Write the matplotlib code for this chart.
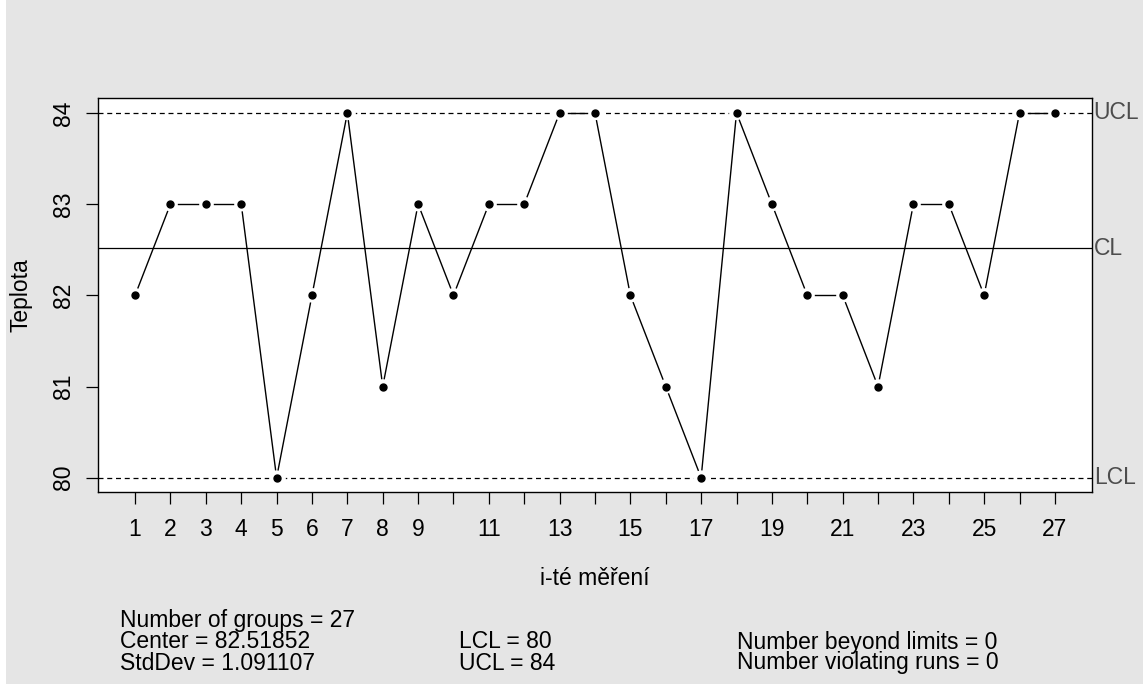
"""Shewhart individuals chart for temperature readings (qcc style)."""

import numpy as np
import matplotlib
matplotlib.use("Agg")
import matplotlib.pyplot as plt
from matplotlib.patches import Rectangle

measurement = list(range(1, 28))
teplota = [82, 83, 83, 83, 80, 82, 84, 81, 83, 82, 83, 83, 84, 84,
           82, 81, 80, 84, 83, 82, 82, 81, 83, 83, 82, 84, 84]
center = 82.51852
std_dev = 1.091107
lcl = 80
ucl = 84
n_beyond = 0
n_violating = 0
x_tick_labels = ["1", "2", "3", "4", "5", "6", "7", "8", "9", "", "11", "", "13", "",
                 "15", "", "17", "", "19", "", "21", "", "23", "", "25", "", "27"]
y_ticks = [80, 81, 82, 83, 84]

plt.rcParams["font.family"] = ["Liberation Sans", "DejaVu Sans"]
BG = "#e5e5e5"
FS = 16.5

fig = plt.figure(figsize=(11.43, 6.84), dpi=100, facecolor=BG)
fig.patches.append(Rectangle((0, 0), 6 / 1143, 1, transform=fig.transFigure,
                             facecolor="white", edgecolor="none", zorder=-1))
ax = fig.add_axes([98.3 / 1143, 1 - 492.3 / 684, 993.4 / 1143, 394.0 / 684])
ax.set_facecolor("white")
ax.set_xlim(-0.04, 28.04)
ax.set_ylim(79.84, 84.16)

# limit lines
ax.axhline(ucl, color="black", lw=0.9, ls=(0, (4, 3)), zorder=1)
ax.axhline(lcl, color="black", lw=0.9, ls=(0, (4, 3)), zorder=1)
ax.axhline(center, color="black", lw=0.9, zorder=1)

# type="b": segments with a gap around each point
fig.canvas.draw()
to_px = ax.transData
inv = ax.transData.inverted()
pts = to_px.transform(np.column_stack([measurement, teplota]))
gap = 8.0
for (x0, y0), (x1, y1) in zip(pts[:-1], pts[1:]):
    d = np.hypot(x1 - x0, y1 - y0)
    if d <= 2 * gap:
        continue
    ux, uy = (x1 - x0) / d, (y1 - y0) / d
    seg = inv.transform([[x0 + ux * gap, y0 + uy * gap],
                         [x1 - ux * gap, y1 - uy * gap]])
    ax.plot(seg[:, 0], seg[:, 1], color="black", lw=1.0, zorder=2)
# clear the limit lines around each point
ax.plot(measurement, teplota, ls="none", marker="o", ms=12,
        mfc="white", mec="none", zorder=1.5)
ax.plot(measurement, teplota, ls="none", marker="o", ms=5,
        mfc="black", mec="black", zorder=3)

ax.set_xticks(measurement)
ax.set_xticklabels(x_tick_labels)
ax.set_yticks(y_ticks)
ax.set_yticklabels([str(v) for v in y_ticks], rotation=90, va="center")
ax.tick_params(axis="both", direction="out", length=8.5, width=0.9,
               labelsize=FS, colors="black")
ax.tick_params(axis="x", pad=10)
ax.tick_params(axis="y", pad=8)
for sp in ax.spines.values():
    sp.set_linewidth(1.0)

ax.set_xlabel("i-té měření", fontsize=FS, labelpad=19)
ax.set_ylabel("Teplota", fontsize=FS, labelpad=14)

for label, yv in (("UCL", ucl), ("CL", center), ("LCL", lcl)):
    ax.text(1.002, yv, label, transform=ax.get_yaxis_transform(),
            fontsize=FS, color="#4d4d4d", va="center", ha="left", clip_on=False)

def put(x_px, y_px, s):
    fig.text(x_px / 1143, 1 - y_px / 684, s, fontsize=FS, ha="left", va="center")

put(120, 620, f"Number of groups = {len(teplota)}")
put(120, 642, f"Center = {center}")
put(120, 663, f"StdDev = {std_dev}")
put(459, 642, f"LCL = {lcl}")
put(459, 663, f"UCL = {ucl}")
put(737, 642, f"Number beyond limits = {n_beyond}")
put(737, 663, f"Number violating runs = {n_violating}")

fig.savefig("out.png", dpi=100, facecolor=BG)
